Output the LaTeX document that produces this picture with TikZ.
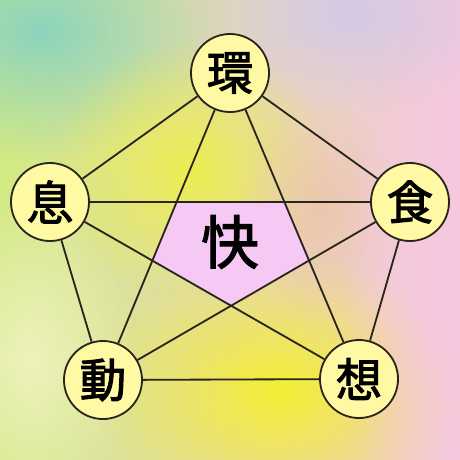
\documentclass[tikz,border=0pt]{standalone}
\usepackage{fontspec}
\usepackage{xcolor}
\usetikzlibrary{fadings}
\newfontfamily\jpfont[FakeBold=2.2]{Noto Sans CJK JP}

\definecolor{bgteal}{RGB}{140,212,190}
\definecolor{bggreen}{RGB}{210,234,130}
\definecolor{bgyellow}{RGB}{236,238,80}
\definecolor{bgstrong}{RGB}{244,238,50}
\definecolor{bgpink}{RGB}{246,200,224}
\definecolor{bglilac}{RGB}{212,202,230}
\definecolor{bgpeach}{RGB}{236,196,168}
\definecolor{bgpale}{RGB}{238,242,190}
\definecolor{ballfill}{RGB}{255,249,164}
\definecolor{corefill}{RGB}{246,200,244}
\definecolor{inkline}{RGB}{40,36,30}

\tikzfading[name=softblot, inner color=transparent!0, outer color=transparent!100]

\tikzset{
	elem/.style={circle, draw=inkline, line width=1.3pt, fill=ballfill, minimum size=1.95cm, inner sep=0pt, font=\jpfont\fontsize{33}{33}\selectfont},
	link/.style={draw=inkline, line width=1.3pt}
}

\begin{document}
\begin{tikzpicture}[x=0.025cm, y=-0.025cm]
	% painted background
	\useasboundingbox (0,0) rectangle (460,460);
	\shade[left color=bggreen, middle color=bgyellow, right color=bgpink] (0,0) rectangle (460,460);
	\fill[bgstrong, path fading=softblot] (280,390) ellipse (190 and 140);
	\fill[bgteal, path fading=softblot] (40,30) ellipse (190 and 130);
	\fill[bgyellow, path fading=softblot] (190,170) ellipse (140 and 130);
	\fill[bgpale, path fading=softblot] (30,360) ellipse (110 and 170);
	\fill[bglilac, path fading=softblot] (350,15) ellipse (170 and 100);
	\fill[bgpeach, opacity=0.8, path fading=softblot] (320,210) ellipse (80 and 110);
	\fill[bgpink, path fading=softblot] (450,290) ellipse (110 and 280);

	\node[elem] (env) at (230,73) {環};
	\node[elem] (food) at (410,202) {食};
	\node[elem] (mind) at (359,379) {想};
	\node[elem] (move) at (103,380) {動};
	\node[elem] (breath) at (50,202) {息};

	\fill[corefill] (intersection of breath.center--food.center and env.center--move.center)
		-- (intersection of breath.center--food.center and env.center--mind.center)
		-- (intersection of env.center--mind.center and move.center--food.center)
		-- (intersection of move.center--food.center and breath.center--mind.center)
		-- (intersection of breath.center--mind.center and env.center--move.center) -- cycle;
	\node[font=\jpfont\fontsize{41}{41}\selectfont] (core) at (230,242) {快};

	\draw[link] (env) -- (food) (food) -- (mind) (mind) -- (move) (move) -- (breath) (breath) -- (env);
	\draw[link] (env) -- (move) (env) -- (mind) (breath) -- (food) (breath) -- (mind) (move) -- (food);
\end{tikzpicture}
\end{document}
